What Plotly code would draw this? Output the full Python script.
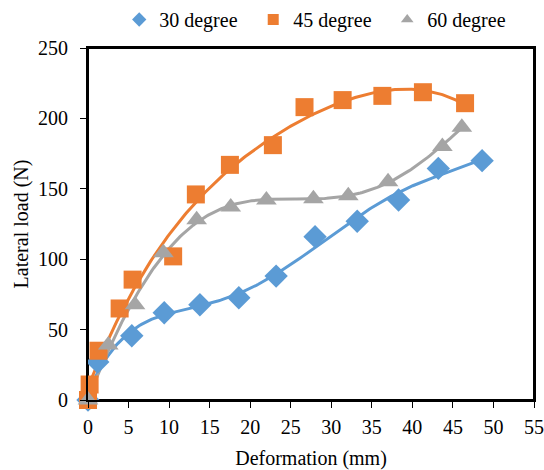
import numpy as np
import plotly.graph_objects as go

# Data
x30 = [0, 1.2, 5.4, 9.4, 13.8, 18.6, 23.2, 28.0, 33.2, 38.3, 43.2, 48.6]
y30 = [0, 27, 45.6, 62, 67.7, 72.6, 88, 116, 127, 142, 164.5, 170]

x45 = [0, 0.2, 1.3, 3.9, 5.5, 10.5, 13.3, 17.5, 22.8, 26.7, 31.4, 36.3, 41.3, 46.5]
y45 = [0, 11, 35, 65, 85.5, 102, 146, 167, 181, 208, 213, 216, 218.6, 210.8]

x60 = [0, 2.5, 5.8, 9.3, 13.4, 17.6, 22.0, 27.8, 32.1, 37.0, 43.7, 46.1]
y60 = [0, 39, 67.7, 104.6, 128, 137, 142, 143, 145, 155, 180, 193.7]

names = ["30 degree", "45 degree", "60 degree"]
colors = ["#5B9BD5", "#ED7D31", "#A5A5A5"]
symbols = ["diamond", "square", "triangle-up"]
sizes = [18, 18, 18]
degs = [5, 4, 5]

x_ticks = list(range(0, 56, 5))
y_ticks = list(range(0, 251, 50))

FONT = "Liberation Serif, Times New Roman, serif"
FS = 20

fig = go.Figure()
series = [(x30, y30), (x45, y45), (x60, y60)]

# polynomial trendlines of each series
for (xs, ys), c, d in zip(series, colors, degs):
    p = np.polyfit(xs, ys, d)
    xf = np.linspace(min(xs), max(xs), 200)
    fig.add_trace(go.Scatter(x=xf, y=np.polyval(p, xf), mode="lines",
                             line=dict(color=c, width=3), showlegend=False,
                             hoverinfo="skip"))

for (xs, ys), c, s, sz, n in zip(series, colors, symbols, sizes, names):
    fig.add_trace(go.Scatter(x=xs, y=ys, mode="markers", name=n,
                             marker=dict(color=c, symbol=s, size=sz),
                             showlegend=False, cliponaxis=False))
    fig.add_trace(go.Scatter(x=[None], y=[None], mode="markers", name=n,
                             marker=dict(color=c, symbol=s, size=11)))

fig.add_shape(type="rect", xref="paper", yref="paper", x0=0, y0=0, x1=1, y1=1,
              line=dict(color="black", width=2), layer="below")

fig.update_layout(
    width=544, height=470,
    margin=dict(l=88, r=10, t=48, b=70, autoexpand=False),
    paper_bgcolor="white", plot_bgcolor="white",
    font=dict(family=FONT, size=FS, color="black"),
    legend=dict(orientation="h", x=0.07, xanchor="left", y=1.0,
                yref="container", yanchor="top", itemwidth=30,
                entrywidth=89,
                font=dict(family=FONT, size=FS), itemsizing="trace",
                traceorder="normal"),
    xaxis=dict(range=[0, 55], tickvals=x_ticks, showgrid=False, zeroline=False,
               showline=True, linecolor="black", linewidth=2, mirror=True,
               ticks="outside", ticklen=6, tickcolor="black", tickwidth=1,
               ticklabelstandoff=2, ticklabeloverflow="allow",
               title=dict(text="Deformation (mm)", standoff=16,
                          font=dict(family=FONT, size=FS)),
               tickfont=dict(family=FONT, size=FS)),
    yaxis=dict(range=[0, 250], tickvals=y_ticks, showgrid=False, zeroline=False,
               showline=True, linecolor="black", linewidth=2, mirror=True,
               ticks="outside", ticklen=6, tickcolor="black", tickwidth=1,
               ticklabelstandoff=8, ticklabeloverflow="allow",
               title=dict(text="Lateral load (N)", standoff=4,
                          font=dict(family=FONT, size=FS)),
               tickfont=dict(family=FONT, size=FS)),
)

fig.write_html("out.html")
